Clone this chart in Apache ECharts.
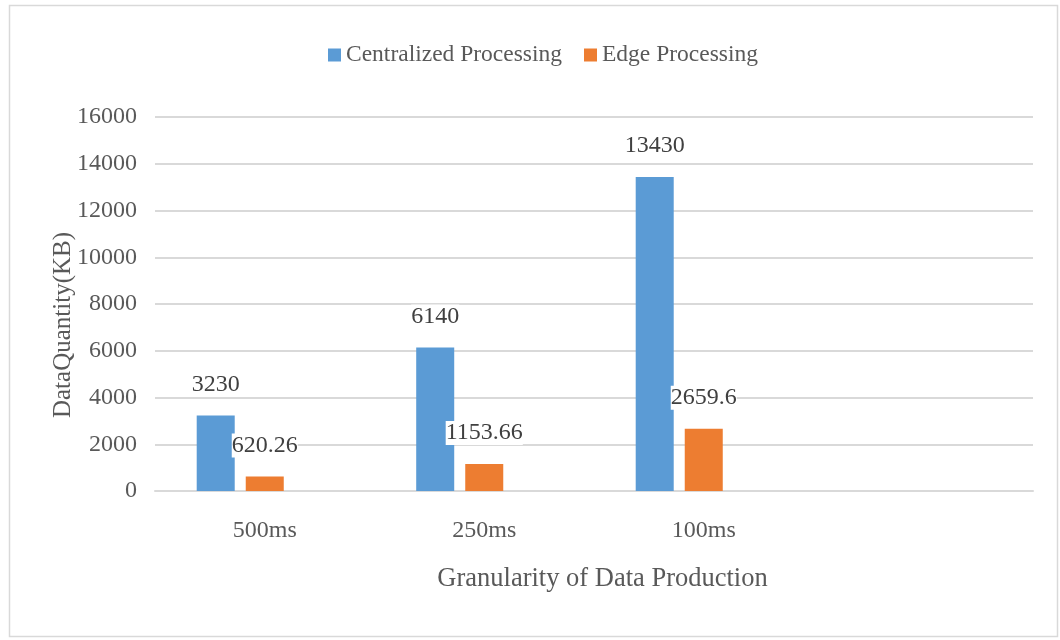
<!DOCTYPE html>
<html>
<head>
<meta charset="utf-8">
<script src="https://cdn.jsdelivr.net/npm/echarts@6/dist/echarts.min.js"></script>
<style>
  html, body { margin: 0; padding: 0; background: #fff; }
  #chart { width: 1060px; height: 640px; }
</style>
</head>
<body>
<div id="chart"></div>
<script>
// Data quantity transmitted per sampling granularity
const categories = ['500ms', '250ms', '100ms', ''];
const centralized = [3230, 6140, 13430, null];
const edge = [620.26, 1153.66, 2659.6, null];
const spare = [null, null, null, null];   // empty third slot in each group
const yTicks = { min: 0, max: 16000, interval: 2000 };

const FONT = '"Liberation Serif", "Times New Roman", serif';
const TEXT = '#595959';
const GRID = '#d9d9d9';

function valueLabel() {
  return {
    show: true,
    position: 'top',
    distance: 19,
    fontFamily: FONT,
    fontSize: 24,
    color: '#404040',
    backgroundColor: '#fff',
    padding: [0, 0],
    formatter: p => String(p.value)
  };
}

const chart = echarts.init(document.getElementById('chart'));
chart.setOption({
  animation: false,
  textStyle: { fontFamily: FONT },
  graphic: [{
    type: 'rect',
    shape: { x: 9.5, y: 5.5, width: 1048, height: 631 },
    style: { fill: 'none', stroke: GRID, lineWidth: 1.5 },
    silent: true
  }],
  legend: {
    top: 38,
    left: 323,
    data: ['Centralized Processing', 'Edge Processing'],
    itemWidth: 13,
    itemHeight: 13,
    itemGap: 22,
    icon: 'rect',
    textStyle: { fontFamily: FONT, fontSize: 23.5, color: TEXT }
  },
  grid: { left: 155, right: 27, top: 117, bottom: 149 },
  xAxis: {
    type: 'category',
    data: categories,
    axisLine: { lineStyle: { color: GRID, width: 2 } },
    axisTick: { show: false },
    axisLabel: { fontFamily: FONT, fontSize: 24, color: TEXT, margin: 28 },
    name: 'Granularity of Data Production',
    nameLocation: 'middle',
    nameGap: 75,
    nameMoveOverlap: false,
    nameTextStyle: { fontFamily: FONT, fontSize: 26.5, color: TEXT, padding: [0, 0, 0, 17] }
  },
  yAxis: {
    type: 'value',
    min: yTicks.min,
    max: yTicks.max,
    interval: yTicks.interval,
    axisLine: { show: false },
    axisTick: { show: false },
    splitLine: { lineStyle: { color: GRID, width: 2 } },
    axisLabel: { fontFamily: FONT, fontSize: 24, color: TEXT, margin: 18, formatter: v => String(v) },
    name: 'DataQuantity(KB)',
    nameLocation: 'middle',
    nameGap: 79,
    nameMoveOverlap: false,
    nameRotate: 90,
    nameTextStyle: { fontFamily: FONT, fontSize: 25, color: TEXT, padding: [0, 42, 0, 0] }
  },
  series: [
    {
      name: 'Centralized Processing',
      type: 'bar',
      data: centralized,
      barGap: '29%',
      barCategoryGap: '38%',
      itemStyle: { color: '#5b9bd5' },
      label: valueLabel()
    },
    {
      name: 'Edge Processing',
      type: 'bar',
      data: edge,
      itemStyle: { color: '#ed7d31' },
      label: valueLabel()
    },
    {
      name: 'spare',
      type: 'bar',
      data: spare,
      itemStyle: { color: '#a5a5a5' }
    }
  ]
});
</script>
</body>
</html>
